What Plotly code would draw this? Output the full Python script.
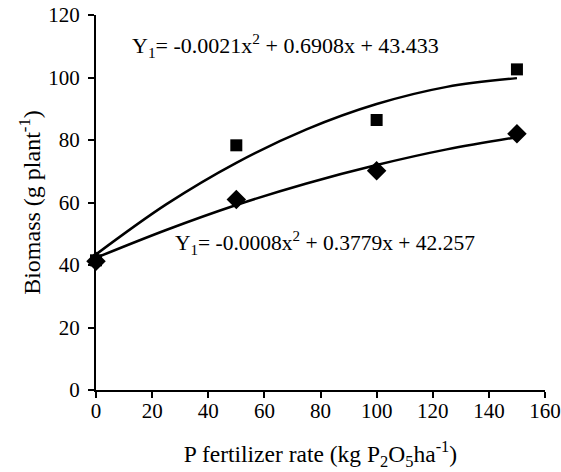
import plotly.graph_objects as go

rates = [0, 50, 100, 150]
biomass_sq = [41.5, 78.3, 86.4, 102.6]
biomass_di = [41.2, 61.0, 70.2, 82.0]

curve_x = [0, 25, 50, 75, 100, 125, 150]
curve_sq = [43.4, 59.4, 72.7, 83.4, 91.5, 97.0, 99.8]
curve_di = [42.3, 51.2, 59.2, 66.1, 72.0, 77.0, 80.9]

x_ticks = [0, 20, 40, 60, 80, 100, 120, 140, 160]
y_ticks = [0, 20, 40, 60, 80, 100, 120]

eq1 = "Y<sub>1</sub>= -0.0021x<sup>2</sup> + 0.6908x + 43.433"
eq2 = "Y<sub>1</sub>= -0.0008x<sup>2</sup> + 0.3779x + 42.257"

FAM = "Liberation Serif"
f_tick = dict(family=FAM, size=21, color="black")
f_xt = dict(family=FAM, size=23.5, color="black")
f_yt = dict(family=FAM, size=24, color="black")
f_eq1 = dict(family=FAM, size=22, color="black")
f_eq2 = dict(family=FAM, size=21.5, color="black")

fig = go.Figure()
fig.add_trace(go.Scatter(x=curve_x, y=curve_sq, mode="lines", line=dict(color="black", width=2.5, shape="spline"),
                         showlegend=False, hoverinfo="skip"))
fig.add_trace(go.Scatter(x=curve_x, y=curve_di, mode="lines", line=dict(color="black", width=2.5, shape="spline"),
                         showlegend=False, hoverinfo="skip"))
fig.add_trace(go.Scatter(x=rates, y=biomass_sq, mode="markers",
                         marker=dict(symbol="square", size=12, color="black"), showlegend=False, cliponaxis=False))
fig.add_trace(go.Scatter(x=rates, y=biomass_di, mode="markers",
                         marker=dict(symbol="diamond", size=15, color="black"), showlegend=False, cliponaxis=False))

fig.add_annotation(x=67.5, y=110.4, text=eq1, showarrow=False, font=f_eq1)
fig.add_annotation(x=81.6, y=47, text=eq2, showarrow=False, font=f_eq2)

fig.update_layout(
    template="none",
    width=561, height=472,
    margin=dict(l=96, r=16, t=15, b=82),
    plot_bgcolor="white", paper_bgcolor="white",
    xaxis=dict(range=[0, 160], tickvals=x_ticks, showgrid=False, zeroline=False, automargin=False,
               showline=True, linecolor="black", linewidth=2, ticks="outside", ticklen=6,
               tickwidth=1.5, tickcolor="black", ticklabelstandoff=-5, ticklabeloverflow="allow",
               tickfont=f_tick,
               title=dict(text="P fertilizer rate (kg P<sub>2</sub>O<sub>5</sub>ha<sup>-1</sup>)",
                          standoff=23, font=f_xt)),
    yaxis=dict(range=[0, 120], tickvals=y_ticks, showgrid=False, zeroline=False, automargin=False,
               showline=True, linecolor="black", linewidth=2, ticks="outside", ticklen=6,
               tickwidth=1.5, tickcolor="black", ticklabelstandoff=4, tickfont=f_tick,
               title=dict(text="Biomass (g plant<sup>-1</sup>)", standoff=1, font=f_yt)),
)

fig.write_html("out.html", config={"displayModeBar": False},
               post_script="document.body.style.margin='0px';")
